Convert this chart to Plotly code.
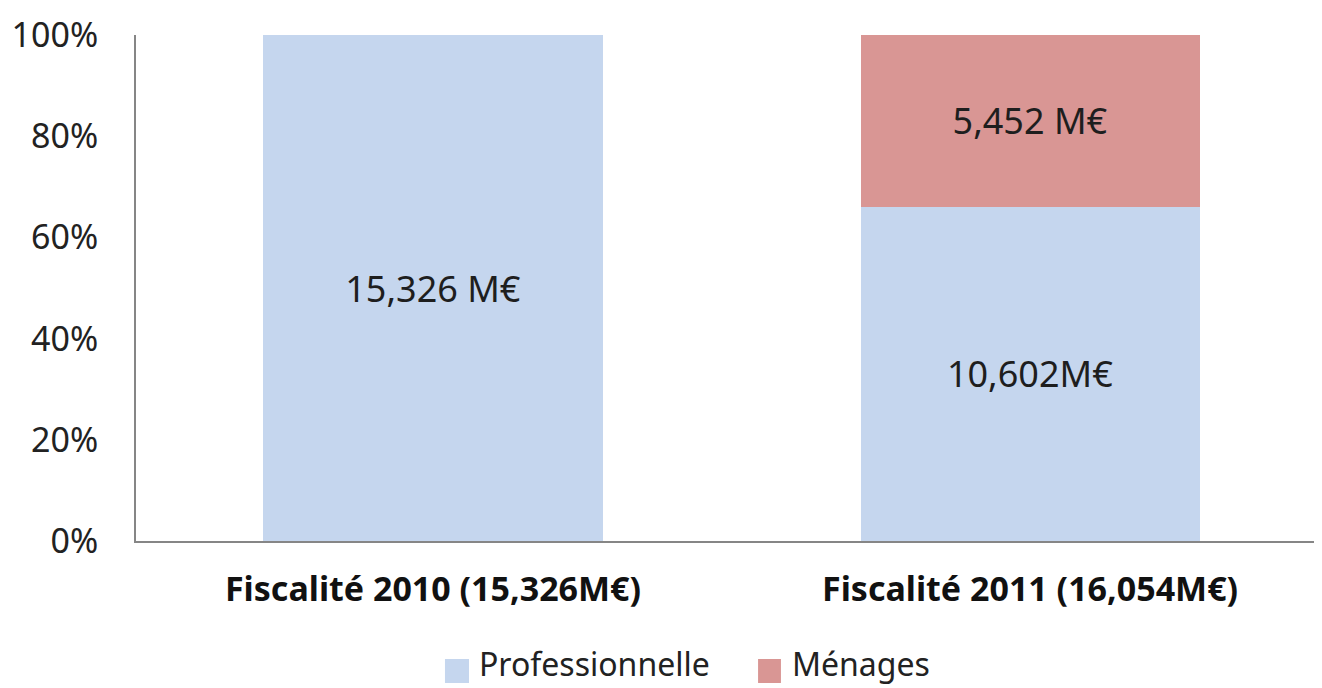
import plotly.graph_objects as go

categories = ["Fiscalité 2010 (15,326M€)", "Fiscalité 2011 (16,054M€)"]
series_names = ["Professionnelle", "Ménages"]
professionnelle = [15326, 10602]
menages = [0, 5452]
prof_labels = ["15,326 M€", "10,602M€"]
men_labels = ["", "5,452 M€"]
y_ticks = [0, 20, 40, 60, 80, 100]

colors = ["#c5d6ee", "#d99694"]
label_font = dict(family="Noto Sans", size=36, color="#1e1e1e")

fig = go.Figure()
for name, vals, labels, col in zip(series_names, [professionnelle, menages],
                                   [prof_labels, men_labels], colors):
    fig.add_trace(go.Bar(
        name=name, x=categories, y=vals,
        marker=dict(color=col, line=dict(width=0)), width=0.568,
        text=labels, texttemplate="%{text}", textposition="inside",
        insidetextanchor="middle", textangle=0, textfont=label_font,
        hoverinfo="skip", showlegend=False,
    ))

# Legend drawn below the plot (squares + text), positioned in paper coordinates
legend_pos = [(0.2605, 0.2808, 0.2875), (0.5245, 0.5438, 0.5514)]
for name, col, (x0, x1, xt) in zip(series_names, colors, legend_pos):
    fig.add_shape(type="rect", xref="paper", yref="paper", x0=x0, x1=x1,
                  y0=-0.2806, y1=-0.2332, fillcolor=col, line=dict(width=0))
    fig.add_annotation(text=name, xref="paper", yref="paper", x=xt, y=-0.243,
                       xanchor="left", yanchor="middle", showarrow=False,
                       font=dict(family="Noto Sans", size=32, color="#222"))

fig.update_layout(
    width=1314, height=680,
    barmode="stack", barnorm="percent",
    paper_bgcolor="white", plot_bgcolor="white",
    margin=dict(l=128, r=0, t=27, b=147),
    font=dict(family="Noto Sans", color="#222"),
    uniformtext=dict(mode=False),
    showlegend=False,
)
fig.update_xaxes(
    range=[-0.4975, 1.489], showline=True, linecolor="#868686", linewidth=2,
    showgrid=False, ticks="",
    tickfont=dict(size=34, color="#111", family="Noto Sans", weight="bold"),
    ticklabelstandoff=17, fixedrange=True, automargin=False,
)
fig.update_yaxes(
    range=[0, 100], tickvals=y_ticks, ticktext=[f"{v}%" for v in y_ticks],
    showline=True, linecolor="#868686", linewidth=2, showgrid=False, ticks="",
    tickfont=dict(size=34, color="#222"), ticklabelstandoff=29, zeroline=False,
    fixedrange=True, automargin=False,
)

fig.write_html("out.html")
